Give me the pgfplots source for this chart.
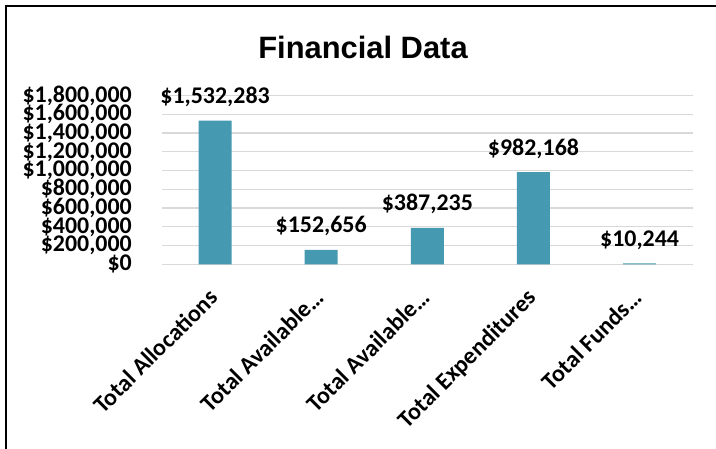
\documentclass[border=0pt]{standalone}
\usepackage{pgfplots}
\pgfplotsset{compat=1.18}
\usepackage{fontspec}
\setmainfont{Carlito}
\newfontfamily\titlefont{Liberation Sans}
\definecolor{barcol}{RGB}{69,153,176}
\definecolor{gridcol}{RGB}{217,217,217}
\begin{document}
\begin{tikzpicture}
\draw[line width=2.5bp] (6bp,-20bp) -- (6bp,443bp) -- (740bp,443bp);
\node[font=\titlefont\bfseries\fontsize{31}{36}\selectfont] at (363bp,402bp) {Financial Data};
\begin{axis}[
  at={(162bp,184.7bp)}, anchor=south west,
  scale only axis, width=530.7bp, height=168.75bp,
  xmin=-0.5, xmax=4.5, ymin=0, ymax=1800000,
  ytick={0,200000,400000,600000,800000,1000000,1200000,1400000,1600000,1800000},
  yticklabels={{\$0},{\$200,000},{\$400,000},{\$600,000},{\$800,000},{\$1,000,000},{\$1,200,000},{\$1,400,000},{\$1,600,000},{\$1,800,000}},
  scaled y ticks=false,
  xtick=data,
  xticklabels={Total Allocations,Total Available…,Total Available…,Total Expenditures,Total Funds…},
  xticklabel style={xshift=-8bp, yshift=-20bp, rotate=45, anchor=north east, inner sep=2pt, font=\bfseries\fontsize{24}{25}\selectfont},
  yticklabel style={font=\bfseries\fontsize{24}{25}\selectfont, xshift=-30bp, inner sep=0pt},
  major tick length=0pt,
  axis line style={draw=none},
  ymajorgrids, grid style={gridcol, line width=1.3bp},
  ybar, bar width=33bp,
  point meta=explicit symbolic,
  nodes near coords,
  nodes near coords style={font=\bfseries\fontsize{24}{25}\selectfont, anchor=base, yshift=17bp, inner sep=0pt, text=black},
  clip=false,
]
\addplot[fill=barcol, draw=none] coordinates {
  (0,1532283) [\$1,532,283]
  (1,152656) [\$152,656]
  (2,387235) [\$387,235]
  (3,982168) [\$982,168]
  (4,10244) [\$10,244]
};
\end{axis}
\pgfresetboundingbox
\path[use as bounding box] (0,0) rectangle (716bp,449bp);
\end{tikzpicture}
\end{document}
